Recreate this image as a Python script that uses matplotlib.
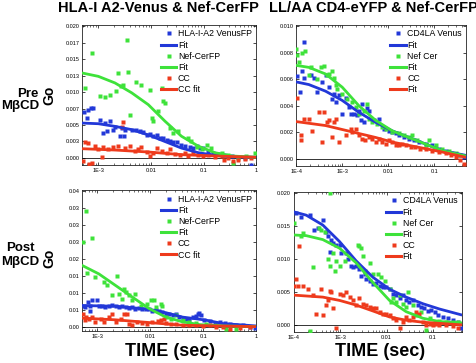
import matplotlib
matplotlib.use("Agg")
import matplotlib.pyplot as plt
from matplotlib.lines import Line2D
from matplotlib.ticker import NullFormatter

plt.rcParams['font.family'] = ['Liberation Sans', 'DejaVu Sans']

# ---------------- data ----------------
# Top-left: HLA-I A2-Venus & Nef-CerFP, Pre MbCD
tl_blue_t = [5.4e-4, 6.2e-4, 6.5e-4, 7.1e-4, 8.0e-4, 1.08e-3, 1.34e-3, 1.67e-3, 2.07e-3, 1.93e-3, 1.24e-3, 1.44e-3,
             2.77e-3, 3.2e-3, 2.58e-3, 3.1e-3, 4.3e-3, 5.3e-3, 6.2e-3, 7.1e-3, 8.3e-3, 9.6e-3, 1.1e-2, 1.28e-2,
             1.48e-2, 1.7e-2, 1.98e-2, 2.3e-2, 2.65e-2, 3.07e-2, 3.8e-2, 4.4e-2, 5.5e-2, 6.4e-2, 7.4e-2, 8.5e-2,
             9.9e-2, 0.123, 0.153, 0.19, 0.25, 0.34, 0.45, 0.61, 0.81]
tl_blue_v = [0.0070, 0.0061, 0.0073, 0.0076, 0.0076, 0.0057, 0.0053, 0.0056, 0.0047, 0.0043, 0.0038, 0.0041,
             0.0046, 0.0043, 0.0033, 0.0034, 0.0043, 0.0042, 0.0041, 0.0039, 0.0035, 0.0036, 0.0033, 0.0035,
             0.0031, 0.0030, 0.0028, 0.0026, 0.0024, 0.0024, 0.0019, 0.0018, 0.0016, 0.0015, 0.0018, 0.0015,
             0.0015, 0.0009, 0.0008, 0.0006, 0.0005, 0.0003, 0.0001, 0.0000, -0.0010]
tl_blue_fit_t = [5e-4, 1e-3, 2.07e-3, 4.3e-3, 8.9e-3, 1.84e-2, 3.8e-2, 7.9e-2, 0.164, 0.34, 1.0]
tl_blue_fit_v = [0.0053, 0.0052, 0.0048, 0.0043, 0.0035, 0.0025, 0.0015, 0.0008, 0.0004, 0.0002, 0.0001]

tl_green_t = [5.7e-4, 7.5e-4, 3.45e-3, 1.08e-3, 1.34e-3, 1.67e-3, 2.16e-3, 2.4e-3, 2.7e-3, 2.98e-3, 3.7e-3,
              5.3e-3, 6.6e-3, 4.0e-3, 9.6e-3, 1.6e-2, 1.7e-2, 1.85e-2, 1.03e-2, 1.1e-2, 1.38e-2, 2.3e-2,
              2.65e-2, 3.3e-2, 5.1e-2, 5.9e-2, 7.4e-2, 9.2e-2, 0.114, 0.14, 0.22, 0.29, 0.37, 0.45, 0.65, 0.94]
tl_green_v = [0.0106, 0.0159, 0.0180, 0.0094, 0.0092, 0.0095, 0.0101, 0.0129, 0.0109, 0.0111, 0.0131,
              0.0116, 0.0111, 0.0066, 0.0104, 0.0106, 0.0086, 0.0084, 0.0061, 0.0056, 0.0071, 0.0046,
              0.0038, 0.0041, 0.0030, 0.0025, 0.0016, 0.0013, 0.0019, 0.0015, 0.0008, 0.0005, -0.0008, 0.0000,
              0.0003, 0.0008]
tl_green_fit_t = [5e-4, 1e-3, 2.07e-3, 4.3e-3, 8.9e-3, 1.84e-2, 3.8e-2, 7.9e-2, 0.164, 0.34, 1.0]
tl_green_fit_v = [0.0129, 0.0124, 0.0114, 0.0099, 0.0081, 0.0056, 0.0033, 0.0018, 0.0008, 0.0003, 0.0001]

tl_red_t = [5.2e-4, 5.7e-4, 6.5e-4, 6.7e-4, 7.5e-4, 8.6e-4, 1.0e-3, 1.16e-3, 1.24e-3, 1.55e-3, 1.93e-3, 2.4e-3,
            2.98e-3, 2.86e-3, 3.2e-3, 4.0e-3, 4.97e-3, 5.7e-3, 6.6e-3, 8.3e-3, 9.6e-3, 1.1e-2, 1.28e-2, 1.6e-2,
            1.98e-2, 2.3e-2, 2.86e-2, 3.56e-2, 4.4e-2, 5.1e-2, 6.4e-2, 7.9e-2, 9.9e-2, 0.123, 0.164, 0.22,
            0.25, 0.29, 0.37, 0.45, 0.61, 0.81]
tl_red_v = [-0.0005, 0.0024, 0.0023, -0.0009, -0.0008, 0.0018, 0.0013, 0.0001, 0.0016, 0.0013, 0.0016, 0.0018,
            0.0055, 0.0047, 0.0015, 0.0018, 0.0010, 0.0013, 0.0016, 0.0009, 0.0003, 0.0008, 0.0015, 0.0010,
            0.0008, 0.0013, 0.0006, 0.0005, 0.0008, 0.0003, 0.0008, 0.0005, 0.0003, 0.0004, 0.0001, 0.0003,
            -0.0003, 0.0000, -0.0005, -0.0003, -0.0001, 0.0000]
tl_red_fit_t = [5e-4, 2.07e-3, 8.9e-3, 3.8e-2, 0.164, 1.0]
tl_red_fit_v = [0.0014, 0.0012, 0.0009, 0.0005, 0.0003, 0.0001]

# Top-right: LL/AA CD4-eYFP & Nef-CerFP, Pre MbCD
tr_blue_t = [1.05e-4, 1.18e-4, 1.47e-4, 1.35e-4, 1.47e-4, 2.05e-4, 2.42e-4, 2.86e-4, 3.67e-4, 4.34e-4, 5.1e-4,
             6.1e-4, 6.6e-4, 7.2e-4, 8.5e-4, 1.0e-3, 1.18e-3, 1.4e-3, 1.52e-3, 1.8e-3, 2.12e-3, 2.3e-3, 2.5e-3,
             2.72e-3, 2.96e-3, 3.5e-3, 3.8e-3, 4.9e-3, 6.3e-3, 8.0e-3, 1.03e-2, 1.22e-2, 1.44e-2, 1.7e-2,
             2.2e-2, 2.8e-2, 3.6e-2, 4.6e-2, 6.5e-2, 9.1e-2, 0.126, 0.176, 0.246, 0.34, 0.44]
tr_blue_v = [0.00625, 0.0050, 0.0088, 0.0066, 0.0061, 0.0063, 0.0061, 0.0050, 0.0058, 0.0063, 0.0054,
             0.0045, 0.0049, 0.0043, 0.0048, 0.0034, 0.0046, 0.0039, 0.0034, 0.0034, 0.0033, 0.0036, 0.0029,
             0.0041, 0.0028, 0.0038, 0.0036, 0.0029, 0.0030, 0.00225, 0.0021, 0.0020, 0.0019, 0.00175,
             0.0016, 0.0015, 0.0014, 0.00125, 0.0011, 0.0010, 0.00075, 0.0006, 0.0004, 0.00025, 0.0001]
tr_blue_fit_t = [1e-4, 1.88e-4, 4.34e-4, 1.0e-3, 2.3e-3, 5.3e-3, 1.22e-2, 2.8e-2, 6.5e-2, 0.149, 0.48]
tr_blue_fit_v = [0.0058, 0.0056, 0.0051, 0.0044, 0.0035, 0.00275, 0.0021, 0.0016, 0.0011, 0.0006, 0.00025]

tr_green_t = [1.0e-4, 1.05e-4, 1.14e-4, 1.35e-4, 1.54e-4, 1.88e-4, 2.05e-4, 2.86e-4, 3.38e-4, 4.0e-4, 4.7e-4,
              5.1e-4, 6.1e-4, 6.6e-4, 7.2e-4, 7.8e-4, 1.0e-3, 1.29e-3, 1.65e-3, 1.95e-3, 2.3e-3, 2.96e-3,
              3.5e-3, 3.8e-3, 4.5e-3, 5.8e-3, 7.4e-3, 8.75e-3, 1.22e-2, 1.7e-2, 2.2e-2, 2.8e-2, 3.3e-2,
              4.27e-2, 6.5e-2, 7.7e-2, 0.107, 0.149, 0.21, 0.29, 0.37]
tr_green_v = [0.0083, 0.0078, 0.0073, 0.0080, 0.0081, 0.0063, 0.0069, 0.0060, 0.0069, 0.0070, 0.0063,
              0.0064, 0.0066, 0.0061, 0.0056, 0.0053, 0.0049, 0.0045, 0.0043, 0.0039, 0.0034, 0.0036,
              0.0041, 0.0030, 0.00275, 0.0026, 0.0024, 0.00225, 0.0020, 0.0019, 0.00175, 0.0016, 0.00175,
              0.0014, 0.0010, 0.0014, 0.0010, 0.00075, 0.0006, 0.0004, 0.00025]
tr_green_fit_t = [1e-4, 1.88e-4, 4.34e-4, 1.0e-3, 2.3e-3, 5.3e-3, 1.22e-2, 2.8e-2, 6.5e-2, 0.149, 0.48]
tr_green_fit_v = [0.00705, 0.0069, 0.0064, 0.0054, 0.0040, 0.0029, 0.0021, 0.0016, 0.0011, 0.0006, 0.0002]

tr_red_t = [1.05e-4, 1.24e-4, 1.3e-4, 1.47e-4, 1.88e-4, 2.23e-4, 3.1e-4, 3.67e-4, 4.0e-4, 4.7e-4, 5.1e-4,
            6.1e-4, 6.6e-4, 7.2e-4, 8.5e-4, 1.18e-3, 1.52e-3, 1.65e-3, 1.95e-3, 2.3e-3, 2.72e-3, 3.2e-3,
            3.8e-3, 4.5e-3, 5.3e-3, 6.3e-3, 7.4e-3, 8.75e-3, 1.03e-2, 1.22e-2, 1.44e-2, 1.7e-2, 2.0e-2,
            2.4e-2, 3.06e-2, 3.9e-2, 5.0e-2, 6.5e-2, 9.1e-2, 0.126, 0.176, 0.226, 0.29, 0.37, 0.44]
tr_red_v = [0.0046, 0.0014, 0.00175, 0.0030, 0.0030, 0.0021, 0.0035, 0.00125, 0.00355, 0.00275, 0.0029,
            0.0016, 0.00275, 0.0030, 0.00125, 0.00175, 0.00225, 0.0020, 0.00225, 0.00175, 0.0015, 0.0014,
            0.0016, 0.0015, 0.00125, 0.0015, 0.00125, 0.0011, 0.0014, 0.00125, 0.0010, 0.0010, 0.0011,
            0.0010, 0.0009, 0.0009, 0.00075, 0.00075, 0.0006, 0.0005, 0.0004, 0.00025, 0.0001, -0.0001, -0.0004]
tr_red_fit_t = [1e-4, 4.34e-4, 1.0e-3, 2.3e-3, 5.3e-3, 1.22e-2, 2.8e-2, 6.5e-2, 0.149, 0.48]
tr_red_fit_v = [0.0028, 0.0025, 0.0022, 0.0019, 0.0016, 0.00125, 0.0010, 0.00075, 0.0005, 0.0001]

# Bottom-left: HLA-I A2-Venus & Nef-CerFP, Post MbCD
bl_blue_t = [5.6e-4, 5.9e-4, 6.75e-4, 7.5e-4, 8.0e-4, 7.5e-4, 1.0e-3, 1.08e-3, 1.24e-3, 1.44e-3, 1.67e-3,
             1.93e-3, 2.23e-3, 2.58e-3, 2.98e-3, 3.45e-3, 4.0e-3, 4.6e-3, 5.3e-3, 6.2e-3, 7.15e-3, 8.3e-3,
             9.6e-3, 1.1e-2, 1.28e-2, 1.48e-2, 1.7e-2, 1.98e-2, 2.3e-2, 2.65e-2, 3.07e-2, 3.56e-2, 4.1e-2,
             4.75e-2, 5.5e-2, 6.4e-2, 7.4e-2, 7.9e-2, 8.5e-2, 9.2e-2, 0.106, 0.132, 0.164, 0.204, 0.254,
             0.316, 0.42, 0.57, 0.76, 0.94]
bl_blue_v = [0.0063, 0.0059, 0.0073, 0.0063, 0.0078, 0.0046, 0.0078, 0.0063, 0.0063, 0.0059, 0.0061,
             0.0065, 0.0063, 0.0059, 0.0061, 0.0059, 0.0056, 0.0059, 0.0054, 0.0056, 0.0052, 0.0054,
             0.0052, 0.0046, 0.0049, 0.0046, 0.0044, 0.0039, 0.0039, 0.0034, 0.0039, 0.0029, 0.0026,
             0.0024, 0.0022, 0.0029, 0.0032, 0.0039, 0.0042, 0.0036, 0.0020, 0.0017, 0.0013, 0.0015, 0.0013,
             0.0010, 0.0007, 0.0005, 0.0000, -0.0003]
bl_blue_fit_t = [5.2e-4, 2.23e-3, 9.6e-3, 1.98e-2, 4.1e-2, 7.4e-2, 0.114, 0.236, 1.0]
bl_blue_fit_v = [0.0063, 0.0061, 0.0052, 0.0042, 0.0029, 0.0024, 0.0020, 0.0010, 0.0003]

bl_green_t = [5.4e-4, 6.2e-4, 8.0e-4, 6.5e-4, 9.3e-4, 1.34e-3, 1.55e-3, 1.87e-3, 2.4e-3, 2.58e-3, 2.98e-3,
              3.2e-3, 3.45e-3, 4.0e-3, 4.6e-3, 5.3e-3, 6.65e-3, 8.9e-3, 1.03e-2, 1.19e-2, 1.28e-2, 1.6e-2,
              1.7e-2, 1.98e-2, 2.47e-2, 3.07e-2, 4.1e-2, 5.5e-2, 7.4e-2, 0.114, 0.177, 0.27, 0.42]
bl_green_v = [0.0249, 0.0342, 0.0261, 0.0159, 0.0146, 0.0132, 0.0122, 0.0093, 0.0151, 0.0098, 0.0083,
              0.0112, 0.0102, 0.0093, 0.0078, 0.0098, 0.0063, 0.0068, 0.0078, 0.0078, 0.0059, 0.0068,
              0.0063, 0.0029, 0.0024, 0.0034, 0.0020, 0.0015, 0.0013, 0.0010, 0.0005, -0.0007, -0.0007]
bl_green_fit_t = [5.2e-4, 1.08e-3, 2.23e-3, 4.6e-3, 9.6e-3, 1.98e-2, 4.1e-2, 8.5e-2, 0.236, 1.0]
bl_green_fit_v = [0.0181, 0.0156, 0.0122, 0.0088, 0.0054, 0.0029, 0.0015, 0.0007, 0.0003, 0.0001]

bl_red_t = [5.35e-4, 5.8e-4, 6.2e-4, 6.95e-4, 8.0e-4, 9.3e-4, 1.16e-3, 1.34e-3, 1.67e-3, 1.93e-3, 2.23e-3,
            2.77e-3, 3.2e-3, 3.7e-3, 4.0e-3, 4.6e-3, 5.75e-3, 7.15e-3, 8.9e-3, 1.1e-2, 1.38e-2, 1.6e-2,
            1.85e-2, 1.98e-2, 2.47e-2, 3.07e-2, 4.1e-2, 5.5e-2, 7.4e-2, 9.9e-2, 0.132, 0.177, 0.236, 0.316,
            0.49, 0.76]
bl_red_v = [0.0039, 0.0020, 0.0029, 0.0024, 0.0029, 0.0015, 0.0024, 0.0015, 0.0029, 0.0039, 0.0015,
            0.0024, 0.0039, 0.0039, 0.0010, 0.0007, 0.0015, 0.0013, 0.0010, 0.0015, 0.0017, 0.0020,
            0.0024, 0.0013, 0.0010, 0.0010, 0.0007, 0.0005, 0.0007, 0.0003, 0.0005, 0.0001, 0.0000, -0.0005,
            -0.0003, -0.0001]
bl_red_fit_t = [5.2e-4, 2.23e-3, 9.6e-3, 4.1e-2, 1.0]
bl_red_fit_v = [0.0026, 0.0021, 0.0013, 0.0005, 0.0001]

# Bottom-right: LL/AA CD4-eYFP & Nef-CerFP, Post MbCD
br_blue_t = [1.12e-4, 1.44e-4, 2.18e-4, 2.79e-4, 3.3e-4, 4.23e-4, 5.0e-4, 5.4e-4, 6.4e-4, 6.95e-4, 5.9e-4,
             8.2e-4, 9.7e-4, 1.05e-3, 1.35e-3, 1.46e-3, 1.73e-3, 1.88e-3, 2.2e-3, 2.6e-3, 2.84e-3, 3.35e-3,
             3.64e-3, 4.3e-3, 5.1e-3, 6.0e-3, 7.1e-3, 8.3e-3, 9.8e-3, 1.16e-2, 1.37e-2, 1.62e-2, 1.91e-2,
             2.25e-2, 2.65e-2, 3.1e-2, 3.7e-2, 4.74e-2, 5.6e-2, 6.6e-2, 7.8e-2, 9.2e-2, 0.109, 0.128, 0.164,
             0.21, 0.27, 0.347, 0.41]
br_blue_v = [0.0169, 0.0163, 0.0166, 0.0144, 0.0146, 0.0158, 0.0141, 0.0134, 0.0129, 0.0124, 0.0111,
             0.0121, 0.0121, 0.0109, 0.0109, 0.0099, 0.0089, 0.0087, 0.0089, 0.0084, 0.0074, 0.0077,
             0.0069, 0.0067, 0.0062, 0.0064, 0.0059, 0.0057, 0.0057, 0.0054, 0.0047, 0.0045, 0.0040,
             0.0045, 0.0037, 0.0035, 0.0037, 0.0030, 0.0027, 0.0025, 0.0021, 0.0022, 0.0020, 0.0015, 0.0012,
             0.0010, 0.0007, 0.0005, -0.0005]
br_blue_fit_t = [1e-4, 1.85e-4, 4.23e-4, 9.7e-4, 2.2e-3, 5.1e-3, 1.16e-2, 2.65e-2, 6.1e-2, 0.139, 0.42]
br_blue_fit_v = [0.0171, 0.0166, 0.0151, 0.0126, 0.0097, 0.0072, 0.0054, 0.0042, 0.0032, 0.0024, 0.0015]

br_green_t = [1.03e-4, 1.44e-4, 1.56e-4, 2.57e-4, 3.58e-4, 3.9e-4, 4.6e-4, 5.4e-4, 5.9e-4, 5.9e-4, 6.95e-4,
              7.55e-4, 8.2e-4, 9.7e-4, 2.18e-4, 1.24e-3, 2.4e-3, 2.6e-3, 2.84e-3, 3.08e-3, 3.35e-3, 4.3e-3,
              5.1e-3, 6.5e-3, 7.7e-3, 9.05e-3, 1.16e-2, 1.26e-2, 1.37e-2, 1.62e-2, 1.91e-2, 2.25e-2, 2.65e-2,
              2.9e-2, 3.7e-2, 4.37e-2, 5.6e-2, 7.2e-2, 8.5e-2, 0.1, 0.139, 0.194, 0.27, 0.347]
br_green_v = [0.0154, 0.0134, 0.0139, 0.0087, 0.0146, 0.0144, 0.0141, 0.0099, 0.0089, 0.0199, 0.0109,
              0.0082, 0.0097, 0.0089, -0.0010, 0.0097, 0.0121, 0.0119, 0.0116, 0.0104, 0.0082, 0.0094,
              0.0077, 0.0077, 0.0072, 0.0067, 0.0054, 0.0035, 0.0040, 0.0035, 0.0045, 0.0032, 0.0027,
              0.0050, 0.0030, 0.0015, 0.0020, -0.0007, 0.0010, 0.0002, 0.0006, 0.0005, 0.0004, 0.0005]
br_green_fit_t = [1e-4, 1.85e-4, 4.23e-4, 9.7e-4, 2.2e-3, 5.1e-3, 1.16e-2, 2.65e-2, 6.1e-2, 0.139, 0.42]
br_green_fit_v = [0.0136, 0.0135, 0.0129, 0.0116, 0.0094, 0.0064, 0.0037, 0.0020, 0.0010, 0.0005, 0.0003]

br_red_t = [1.03e-4, 1.12e-4, 1.32e-4, 1.22e-4, 1.56e-4, 2.0e-4, 2.57e-4, 3.03e-4, 3.9e-4, 4.23e-4, 5.0e-4,
            5.4e-4, 5.9e-4, 6.4e-4, 6.95e-4, 8.2e-4, 9.7e-4, 1.14e-3, 1.35e-3, 1.59e-3, 1.88e-3, 2.2e-3,
            2.6e-3, 3.08e-3, 3.64e-3, 4.3e-3, 5.1e-3, 6.0e-3, 7.1e-3, 8.3e-3, 9.8e-3, 1.16e-2, 1.37e-2,
            1.62e-2, 1.91e-2, 2.25e-2, 2.65e-2, 3.1e-2, 3.7e-2, 4.37e-2, 5.15e-2, 6.1e-2, 7.2e-2, 8.5e-2,
            0.1, 0.118, 0.139, 0.194, 0.27, 0.347]
br_red_v = [0.0059, 0.0069, 0.0119, 0.0059, 0.0059, 0.0054, 0.0045, 0.0017, 0.0054, 0.0015, 0.0030,
            0.0037, 0.0052, 0.0050, 0.0025, -0.0005, 0.0047, 0.0045, 0.0050, 0.0042, 0.0037, 0.0030,
            0.0040, 0.0032, 0.0030, 0.0027, 0.0025, 0.0025, 0.0020, 0.0017, 0.0017, 0.0015, 0.0010,
            0.0007, -0.0005, 0.0005, 0.0012, 0.0007, 0.0012, 0.0020, 0.0017, 0.0005, 0.0000, 0.0002,
            0.0000, 0.0002, 0.0000, 0.0000, -0.0002, -0.0005]
br_red_fit_t = [1e-4, 4.23e-4, 9.7e-4, 2.2e-3, 5.1e-3, 1.16e-2, 2.65e-2, 6.1e-2, 0.42]
br_red_fit_v = [0.0045, 0.0042, 0.0037, 0.0030, 0.0021, 0.0012, 0.0007, 0.0004, 0.0000]

# labels
titles = ["HLA-I A2-Venus & Nef-CerFP", "LL/AA CD4-eYFP & Nef-CerFP"]
row_labels = ["Pre\nM\u03b2CD", "Post\nM\u03b2CD"]
left_legend = ["HLA-I-A2 VenusFP", "Fit", "Nef-CerFP", "Fit", "CC", "CC fit"]
right_legend = ["CD4LA Venus", "Fit", "Nef Cer", "Fit", "CC", "Fit"]

tl_yticks = [0, 0.0025, 0.005, 0.0075, 0.01, 0.0125, 0.015, 0.0175, 0.02]
tl_ylabels = ['0.000', '0.003', '0.005', '0.007', '0.010', '0.013', '0.015', '0.017', '0.020']
tr_yticks = [0, 0.002, 0.004, 0.006, 0.008, 0.010]
tr_ylabels = ['0.000', '0.002', '0.004', '0.006', '0.008', '0.010']
bl_yticks = [0, 0.005, 0.01, 0.015, 0.02, 0.025, 0.03, 0.035, 0.04]
bl_ylabels = ['0.00', '0.01', '0.01', '0.01', '0.02', '0.03', '0.03', '0.03', '0.04']
br_yticks = [0, 0.005, 0.01, 0.015, 0.02]
br_ylabels = ['0.000', '0.005', '0.010', '0.015', '0.020']
left_xticks = [1e-3, 1e-2, 1e-1, 1]
left_xlabels = ['1E-3', '0.01', '0.1', '1']
right_xticks = [1e-4, 1e-3, 1e-2, 1e-1]
right_xlabels = ['1E-4', '1E-3', '0.01', '0.1']

BLUE = '#2238d8'
GREEN = '#3ee23a'
RED = '#ee3a1c'

fig = plt.figure(figsize=(4.77, 3.63), dpi=100)

def panel(rect, series, xlim, ylim, xticks, xlabels, yticks, ylabels, legend_labels):
    ax = fig.add_axes(rect)
    ax.set_xscale('log')
    ax.axhline(0, color='#333333', lw=0.7, zorder=1)
    handles = []
    for (t, v, ft, fv), c in zip(series, [BLUE, GREEN, RED]):
        ax.plot(t, v, 's', color=c, ms=2.6, mec='none', zorder=3)
        ax.plot(ft, fv, '-', color=c, lw=2.0, zorder=4, solid_capstyle='round')
        handles.append(Line2D([], [], ls='none', marker='s', color=c, ms=3.2, mec='none'))
        handles.append(Line2D([], [], ls='-', color=c, lw=2.2))
    ax.set_xlim(*xlim)
    ax.set_ylim(*ylim)
    ax.set_xticks(xticks)
    ax.set_xticklabels(xlabels)
    ax.xaxis.set_minor_formatter(NullFormatter())
    ax.set_yticks(yticks)
    ax.set_yticklabels(ylabels)
    ax.tick_params(which='both', direction='in', top=True, right=True, labelsize=4, pad=2)
    ax.tick_params(which='major', length=2.5, width=0.5)
    ax.tick_params(which='minor', length=1.5, width=0.4)
    for s in ax.spines.values():
        s.set_linewidth(0.6)
        s.set_color('#222222')
    ax.legend(handles, legend_labels, loc='upper right', frameon=False, fontsize=6.3,
              handlelength=1.8, handletextpad=0.15, labelspacing=0.25, borderaxespad=0.3,
              borderpad=0.2)
    return ax

panel([0.172, 0.545, 0.365, 0.386],
      [(tl_blue_t, tl_blue_v, tl_blue_fit_t, tl_blue_fit_v),
       (tl_green_t, tl_green_v, tl_green_fit_t, tl_green_fit_v),
       (tl_red_t, tl_red_v, tl_red_fit_t, tl_red_fit_v)],
      (4.9e-4, 1.0), (-0.0011, 0.0202), left_xticks, left_xlabels, tl_yticks, tl_ylabels, left_legend)

panel([0.621, 0.543, 0.356, 0.388],
      [(tr_blue_t, tr_blue_v, tr_blue_fit_t, tr_blue_fit_v),
       (tr_green_t, tr_green_v, tr_green_fit_t, tr_green_fit_v),
       (tr_red_t, tr_red_v, tr_red_fit_t, tr_red_fit_v)],
      (1.0e-4, 0.49), (-0.00055, 0.0101), right_xticks, right_xlabels, tr_yticks, tr_ylabels, right_legend)

panel([0.172, 0.088, 0.365, 0.388],
      [(bl_blue_t, bl_blue_v, bl_blue_fit_t, bl_blue_fit_v),
       (bl_green_t, bl_green_v, bl_green_fit_t, bl_green_fit_v),
       (bl_red_t, bl_red_v, bl_red_fit_t, bl_red_fit_v)],
      (5.2e-4, 1.0), (-0.0012, 0.0402), left_xticks, left_xlabels, bl_yticks, bl_ylabels, left_legend)

panel([0.616, 0.085, 0.352, 0.386],
      [(br_blue_t, br_blue_v, br_blue_fit_t, br_blue_fit_v),
       (br_green_t, br_green_v, br_green_fit_t, br_green_fit_v),
       (br_red_t, br_red_v, br_red_fit_t, br_red_fit_v)],
      (1.0e-4, 0.42), (-0.0011, 0.0201), right_xticks, right_xlabels, br_yticks, br_ylabels, right_legend)

W, H = 477.0, 363.0
def ftext(x, y, s, **kw):
    fig.text(x / W, 1 - y / H, s, **kw)

ftext(158, 8, titles[0], ha='center', va='center', fontsize=10.5, fontweight='bold')
ftext(373, 8, titles[1], ha='center', va='center', fontsize=10.5, fontweight='bold')
ftext(39, 100, row_labels[0], ha='right', va='center', fontsize=9.5, fontweight='bold',
      multialignment='right', linespacing=1.1)
ftext(20, 255, row_labels[1], ha='center', va='center', fontsize=9.5, fontweight='bold',
      multialignment='center', linespacing=1.15)
ftext(49, 95, "Go", ha='center', va='center', fontsize=10, fontweight='bold', rotation=90)
ftext(49, 258, "Go", ha='center', va='center', fontsize=10, fontweight='bold', rotation=90)
ftext(170, 352, "TIME (sec)", ha='center', va='center', fontsize=13, fontweight='bold')
ftext(380, 352, "TIME (sec)", ha='center', va='center', fontsize=13, fontweight='bold')

fig.savefig('out.png', dpi=100)
